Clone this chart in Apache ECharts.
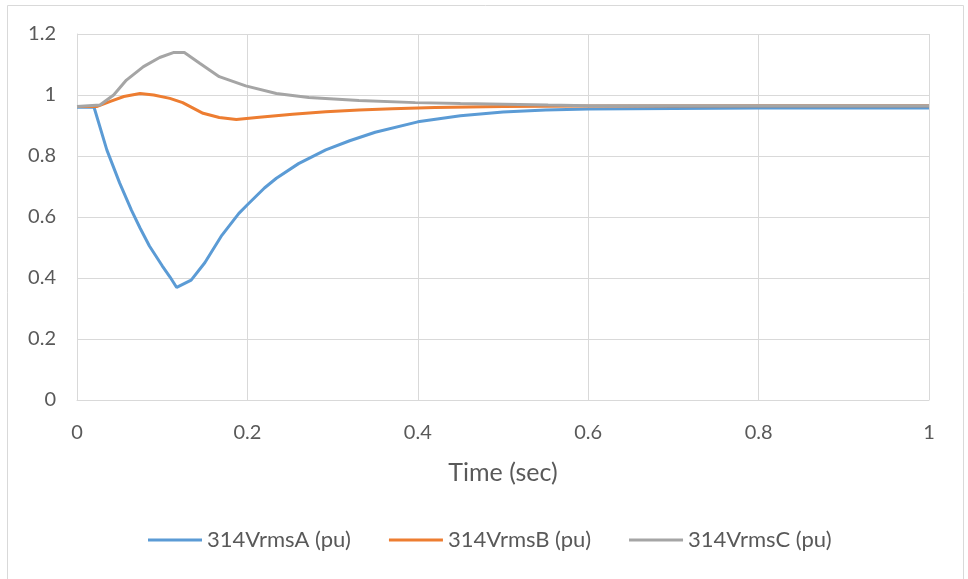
<!DOCTYPE html>
<html>
<head>
<meta charset="utf-8">
<script src="https://cdn.jsdelivr.net/npm/echarts@6/dist/echarts.min.js"></script>
<style>
  html, body { margin: 0; padding: 0; background: #fff; }
  #chart { width: 968px; height: 579px; }
</style>
</head>
<body>
<div id="chart"></div>
<script>
// Phase RMS voltages at bus 314 after a fault (per unit)
const seriesNames = ['314VrmsA (pu)', '314VrmsB (pu)', '314VrmsC (pu)'];

const timeA = [0, 0.02, 0.035, 0.05, 0.064, 0.074, 0.085, 0.1, 0.109, 0.117, 0.134, 0.15, 0.17, 0.19, 0.2, 0.22, 0.234, 0.26, 0.292, 0.32, 0.35, 0.4, 0.45, 0.5, 0.55, 0.6, 0.7, 0.8, 0.9, 1.0];
const vrmsA = [0.96, 0.96, 0.82, 0.712, 0.622, 0.564, 0.505, 0.44, 0.404, 0.369, 0.393, 0.45, 0.54, 0.612, 0.64, 0.695, 0.727, 0.775, 0.82, 0.85, 0.878, 0.912, 0.932, 0.944, 0.951, 0.954, 0.956, 0.957, 0.957, 0.957];

const timeB = [0, 0.023, 0.04, 0.055, 0.074, 0.09, 0.109, 0.124, 0.148, 0.167, 0.187, 0.214, 0.253, 0.292, 0.331, 0.37, 0.42, 0.5, 0.55, 0.6, 0.8, 1.0];
const vrmsB = [0.962, 0.962, 0.98, 0.995, 1.005, 1.0, 0.989, 0.975, 0.94, 0.926, 0.92, 0.927, 0.937, 0.945, 0.951, 0.955, 0.959, 0.962, 0.963, 0.964, 0.965, 0.965];

const timeC = [0, 0.027, 0.043, 0.058, 0.078, 0.097, 0.113, 0.126, 0.144, 0.167, 0.198, 0.234, 0.272, 0.331, 0.397, 0.45, 0.553, 0.6, 0.8, 1.0];
const vrmsC = [0.962, 0.967, 1.0, 1.049, 1.093, 1.123, 1.139, 1.139, 1.104, 1.06, 1.03, 1.005, 0.992, 0.982, 0.975, 0.972, 0.967, 0.965, 0.965, 0.965];

const colors = ['#5B9BD5', '#ED7D31', '#A5A5A5'];

function pairs(xs, ys) { return xs.map((x, i) => [x, ys[i]]); }

const font = 'Lato, "Open Sans", sans-serif';
const textColor = '#595959';
const gridColor = '#d9d9d9';

const chart = echarts.init(document.getElementById('chart'), null, { renderer: 'canvas' });
chart.setOption({
  animation: false,
  color: colors,
  textStyle: { fontFamily: font },
  graphic: [{
    type: 'rect',
    shape: { x: 7.5, y: 5.5, width: 956, height: 600 },
    style: { fill: 'none', stroke: '#d9d9d9', lineWidth: 1 },
    silent: true
  }],
  grid: { left: 77, right: 39, top: 34, bottom: 179, containLabel: false },
  legend: {
    bottom: 23,
    left: 143,
    icon: 'rect',
    itemWidth: 54,
    itemHeight: 3,
    itemGap: 38,
    textStyle: { color: textColor, fontSize: 22, fontFamily: font, padding: [0, 0, 0, 0] },
    data: seriesNames
  },
  xAxis: {
    type: 'value',
    min: 0, max: 1, interval: 0.2,
    name: 'Time (sec)',
    nameLocation: 'middle',
    nameGap: 60,
    nameTextStyle: { color: textColor, fontSize: 25, fontFamily: font },
    axisLine: { show: true, lineStyle: { color: gridColor, width: 1 } },
    axisTick: { show: false },
    axisLabel: { color: textColor, fontSize: 20, margin: 23, fontFamily: font,
      formatter: v => String(+v.toFixed(1)) },
    splitLine: { show: true, lineStyle: { color: gridColor, width: 1 } }
  },
  yAxis: {
    type: 'value',
    min: 0, max: 1.2, interval: 0.2,
    axisLine: { show: true, lineStyle: { color: gridColor, width: 1 } },
    axisTick: { show: false },
    axisLabel: { color: textColor, fontSize: 20, margin: 21, fontFamily: font,
      formatter: v => String(+v.toFixed(1)) },
    splitLine: { show: true, lineStyle: { color: gridColor, width: 1 } }
  },
  series: [
    { name: seriesNames[0], type: 'line', data: pairs(timeA, vrmsA), showSymbol: false, symbol: 'none',
      lineStyle: { width: 3, color: colors[0] }, smooth: false },
    { name: seriesNames[1], type: 'line', data: pairs(timeB, vrmsB), showSymbol: false, symbol: 'none',
      lineStyle: { width: 3, color: colors[1] }, smooth: false },
    { name: seriesNames[2], type: 'line', data: pairs(timeC, vrmsC), showSymbol: false, symbol: 'none',
      lineStyle: { width: 3, color: colors[2] }, smooth: false }
  ]
});
</script>
</body>
</html>
